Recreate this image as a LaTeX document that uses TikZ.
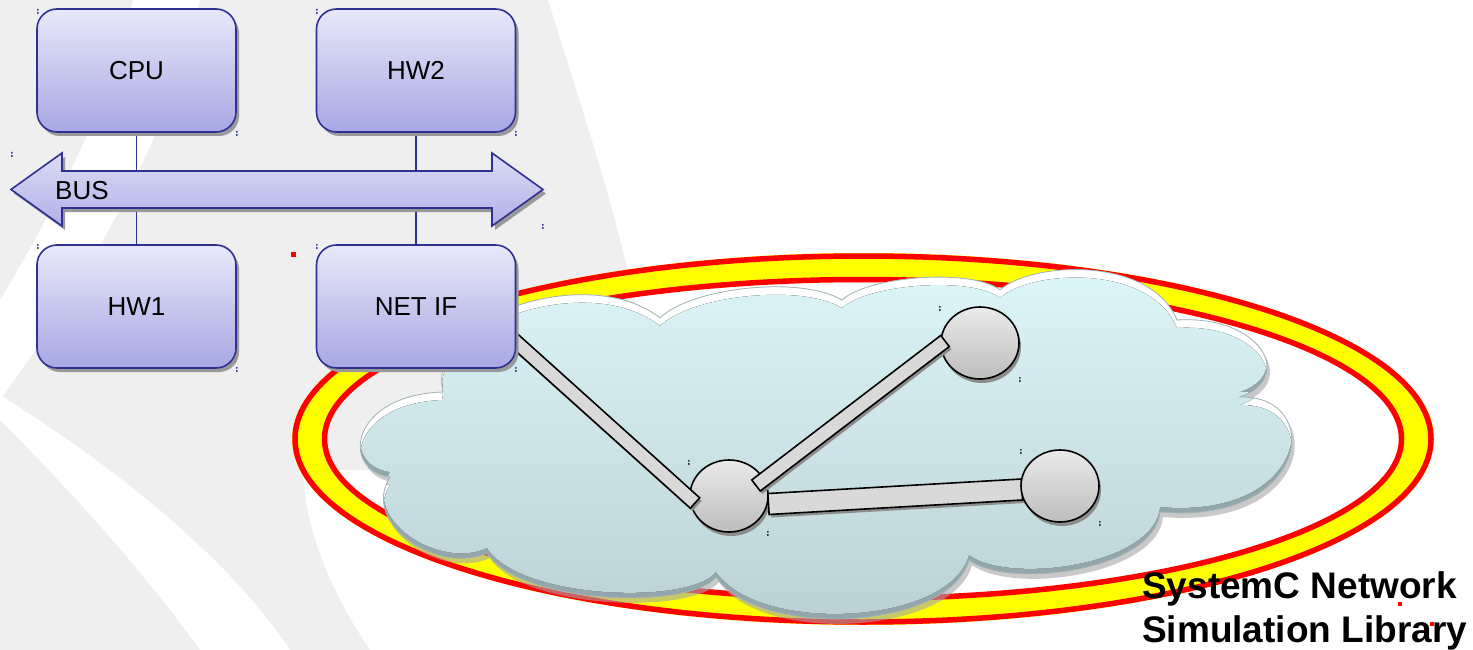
\documentclass[tikz,border=0pt]{standalone}
\usepackage{fontspec}
\setmainfont{Liberation Sans}
\usetikzlibrary{shapes.geometric,shadows,calc}
\definecolor{bgray}{HTML}{EFEFEF}
\definecolor{boxtop}{HTML}{E8E8F9}
\definecolor{boxbot}{HTML}{A7A7E4}
\definecolor{boxline}{HTML}{2E3192}
\definecolor{bustop}{HTML}{DCDCF6}
\definecolor{busbot}{HTML}{B0B0E7}
\definecolor{cloudtop}{HTML}{DDF6F9}
\definecolor{cloudbot}{HTML}{B8CED3}
\definecolor{cloudrim}{HTML}{93A6AB}
\definecolor{cloudline}{HTML}{A3B3B7}
\definecolor{nodetop}{HTML}{EAEAEA}
\definecolor{nodebot}{HTML}{BDBDBD}
\definecolor{barfill}{HTML}{D9D9D9}
\definecolor{ringred}{HTML}{FF0000}
\definecolor{ringyellow}{HTML}{FFFF00}
\definecolor{hdlblue}{HTML}{3A3AA0}
\definecolor{hdlgray}{HTML}{333333}
\pgfdeclarelayer{bgl}
\pgfdeclarelayer{netl}
\pgfsetlayers{bgl,netl,main}
\tikzset{
  hwbox/.style={draw=boxline, line width=1.6pt, rounded corners=20pt,
    top color=boxtop, bottom color=boxbot, minimum width=199pt, minimum height=123pt,
    inner sep=0pt, font=\fontsize{26}{30}\selectfont,
    drop shadow={shadow xshift=3pt, shadow yshift=-4pt, fill=black!40, opacity=1}},
  busline/.style={draw=boxline, line width=1.4pt},
  netnode/.style={ellipse, draw=black, line width=1.6pt, top color=nodetop, bottom color=nodebot,
    minimum width=78pt, minimum height=72pt, inner sep=0pt,
    drop shadow={shadow xshift=2pt, shadow yshift=-4pt, fill=black!45, opacity=1}},
  bigtext/.style={anchor=base west, inner sep=0pt, font=\bfseries\fontsize{37}{44}\selectfont}
}
\newcommand\cloudshape{%
  (390,477) .. controls (340,470) and (350,395) .. (443,392)
  .. controls (425,315) and (590,262) .. (660,318)
  .. controls (690,288) and (800,275) .. (842,300)
  .. controls (868,276) and (972,268) .. (1000,290)
  .. controls (1030,262) and (1150,255) .. (1177,320)
  .. controls (1262,315) and (1295,378) .. (1240,397)
  .. controls (1325,395) and (1310,525) .. (1160,512)
  .. controls (1155,570) and (1010,590) .. (969,560)
  .. controls (950,630) and (760,640) .. (716,577)
  .. controls (690,610) and (520,605) .. (487,553)
  .. controls (440,575) and (360,525) .. (390,477) -- cycle}
\newcommand\netbar[3]{%
  \fill[black!45, transform canvas={xshift=2pt,yshift=-3pt}]
    ($(#1)!#3!90:(#2)$) -- ($(#2)!#3!-90:(#1)$) -- ($(#2)!#3!90:(#1)$) -- ($(#1)!#3!-90:(#2)$) -- cycle;
  \filldraw[fill=barfill, draw=black, line width=1.6pt, line join=miter]
    ($(#1)!#3!90:(#2)$) -- ($(#2)!#3!-90:(#1)$) -- ($(#2)!#3!90:(#1)$) -- ($(#1)!#3!-90:(#2)$) -- cycle;}
\newcommand\hdl[3]{\fill[#3] (#1,#2) rectangle ++(1.6,1.6) (#1,#2+3.2) rectangle ++(1.6,1.6);}
\begin{document}
\begin{tikzpicture}[x=1pt,y=-1pt]
\useasboundingbox (0,0) rectangle (1473,650);
\begin{pgfonlayer}{bgl}
  % background swooshes
  \fill[white] (0,0) rectangle (1473,650);
  \fill[bgray] (0,0) -- (548,0) .. controls (585,120) and (620,220) .. (640,330)
     .. controls (600,450) and (520,560) .. (470,650) -- (0,650) -- cycle;
  \fill[white] (133,0) -- (200,0) .. controls (180,100) and (110,250) .. (0,400)
     -- (0,300) .. controls (60,200) and (110,100) .. (133,0) -- cycle;
  \fill[white] (0,420) .. controls (80,500) and (150,580) .. (200,650) -- (290,650)
     .. controls (230,560) and (120,470) .. (0,395) -- cycle;
  \fill[white] (370,650) .. controls (330,590) and (305,530) .. (303,470)
     -- (600,470) -- (520,650) -- cycle;
  % ring
  \fill[ringyellow, even odd rule] (863,439) ellipse [x radius=571pt, y radius=186pt]
       (863,439) ellipse [x radius=536pt, y radius=157pt];
  \draw[ringred, line width=5.5pt] (863,439) ellipse [x radius=568pt, y radius=183pt];
  \draw[ringred, line width=5.5pt] (863,439) ellipse [x radius=538.5pt, y radius=159.5pt];
  % cloud
  \fill[black!35, opacity=.6, xshift=3pt, yshift=-5pt] \cloudshape;
  \begin{scope}
    \clip \cloudshape;
    \fill[cloudrim] (330,250) rectangle (1320,640);
    \fill[white, yshift=5pt] \cloudshape;
    \clip[yshift=5pt] \cloudshape;
    \fill[top color=cloudtop, bottom color=cloudbot, yshift=-8pt] \cloudshape;
  \end{scope}
  \draw[cloudline, line width=0.8pt] \cloudshape;
\end{pgfonlayer}
% boxes
\node[hwbox] (cpu) at (136.5,70.5) {CPU};
\node[hwbox] (hw2) at (416,70.5) {HW2};
\node[hwbox] (hw1) at (136.5,306.5) {HW1};
\node[hwbox] (netif) at (416,306.5) {NET IF};
% network
\begin{pgfonlayer}{netl}
  \node[netnode] (n1) at (729,496) {};
  \node[netnode] (n2) at (980,343) {};
  \coordinate (l1a) at ($(netif)+(94,30)$);
  \coordinate (l1b) at ($(n1)+(-34,7)$);
  \coordinate (l2a) at ($(n1)+(27,-10.5)$);
  \coordinate (l2b) at ($(n2)+(-35,-2)$);
  \coordinate (l3a) at ($(n1)+(39.5,8)$);
  \coordinate (l3b) at ($(n1)+(293,-6.5)$);
  \netbar{l1a}{l1b}{7pt}
  \netbar{l2a}{l2b}{7pt}
  \netbar{l3a}{l3b}{10.5pt}
  \node[netnode] (n3) at (1060,486) {};
  \draw[busline] (cpu) -- (hw1);
  \draw[busline] (hw2) -- (netif);
\end{pgfonlayer}
% bus
\fill[black!40, xshift=3pt, yshift=-4pt] (11,189.5) -- (62,153) -- (62,171) -- (492,171) -- (492,153) -- (543,189.5)
   -- (492,226) -- (492,208) -- (62,208) -- (62,226) -- cycle;
\draw[boxline, line width=1.6pt, line join=miter, top color=bustop, bottom color=busbot]
   (11,189.5) -- (62,153) -- (62,171) -- (492,171) -- (492,153) -- (543,189.5)
   -- (492,226) -- (492,208) -- (62,208) -- (62,226) -- cycle;
\node[anchor=base west, inner sep=0pt, font=\fontsize{26}{30}\selectfont] (bus) at (55,199) {BUS};
% title
\node[bigtext] (sc1) at (1142,598) {SystemC Network};
\node[bigtext] (sc2) at (1142,642) {Simulation Library};
% handles
\hdl{37}{9}{hdlblue}\hdl{236}{131}{hdlblue}\hdl{316}{9}{hdlblue}\hdl{515}{131}{hdlblue}
\hdl{37}{244}{hdlblue}\hdl{236}{367}{hdlblue}\hdl{316}{244}{hdlblue}\hdl{515}{367}{hdlblue}
\hdl{11}{152}{hdlblue}\hdl{542}{224}{hdlblue}
\hdl{939}{306}{hdlgray}\hdl{1019}{377}{hdlgray}\hdl{688}{460}{hdlgray}
\hdl{767}{531}{hdlgray}\hdl{1020}{449}{hdlgray}\hdl{1099}{521}{hdlgray}
\fill[ringred] (291,252) rectangle ++(5,5);
\fill[ringred] (1398,602) rectangle ++(4,4);
\fill[ringred] (1430,622) rectangle ++(4,4);
\end{tikzpicture}
\end{document}
